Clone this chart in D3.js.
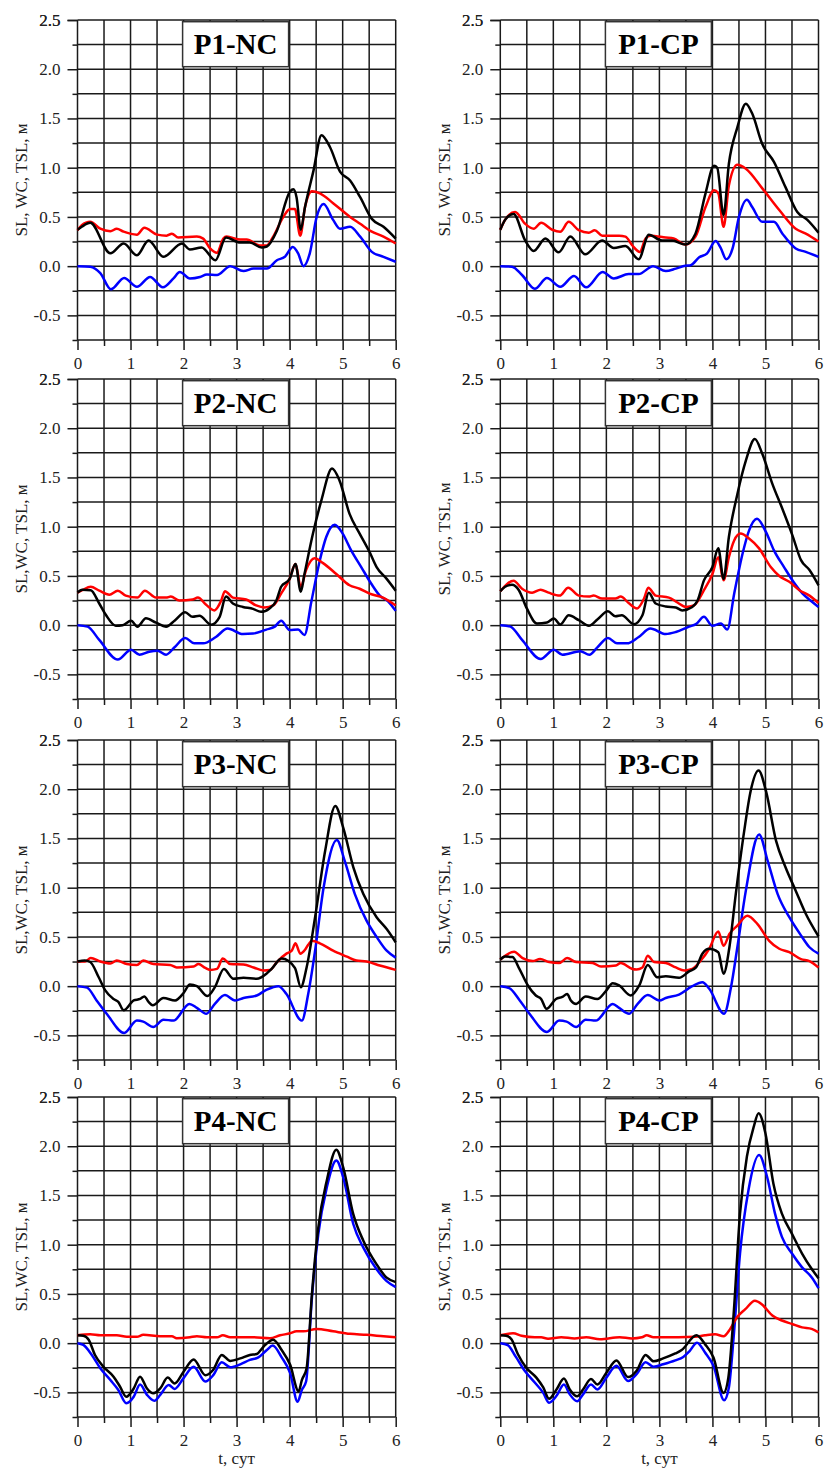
<!DOCTYPE html>
<html>
<head>
<meta charset="utf-8">
<script src="https://cdn.jsdelivr.net/npm/d3@7"></script>
<style>
  body { margin: 0; background: #fff; }
  svg { display: block; }
  text { font-family: "Liberation Serif", "Times New Roman", serif; }
</style>
</head>
<body>
<div id="chart"></div>
<script>
// оси и подписи
const xTicks = [0, 1, 2, 3, 4, 5, 6];
const yTicks = [-0.5, 0, 0.5, 1, 1.5, 2, 2.5];
const yTickLabels = ['-0.5', '0.0', '0.5', '1.0', '1.5', '2.0', '2.5'];
const titles = ['P1-NC', 'P1-CP', 'P2-NC', 'P2-CP', 'P3-NC', 'P3-CP', 'P4-NC', 'P4-CP'];
const yTitles = ['SL, WC, TSL, м', 'SL, WC, TSL, м', 'SL,WC, TSL, м', 'SL, WC, TSL, м',
    'SL,WC, TSL, м', 'SL,WC, TSL, м', 'SL,WC, TSL, м', 'SL,WC, TSL, м'];
const xTitle = 't, сут';

// [t, значение]: SL - синий, WC - красный, TSL - черный
const p1ncSL = [[0,0],[0.24,-0.005],[0.43,-0.07],[0.63,-0.235],[0.88,-0.12],[1.12,-0.21],[1.37,-0.11],[1.61,-0.215],[1.81,-0.125],[1.93,-0.06],[2.12,-0.125],[2.31,-0.11],[2.44,-0.085],[2.63,-0.09],[2.88,0],[3.13,-0.05],[3.32,-0.025],[3.57,-0.025],[3.76,0.06],[3.91,0.095],[4.06,0.195],[4.16,0.13],[4.26,0],[4.38,0.13],[4.51,0.5],[4.64,0.63],[4.82,0.47],[4.95,0.38],[5.14,0.4],[5.33,0.3],[5.55,0.145],[5.77,0.095],[6,0.045]];
const p1ncWC = [[0,0.365],[0.08,0.415],[0.24,0.45],[0.43,0.38],[0.62,0.355],[0.74,0.38],[0.87,0.35],[1.12,0.32],[1.26,0.39],[1.5,0.32],[1.68,0.31],[1.78,0.33],[1.9,0.29],[2.25,0.3],[2.37,0.28],[2.5,0.18],[2.63,0.135],[2.75,0.28],[2.81,0.3],[3.07,0.27],[3.19,0.27],[3.44,0.21],[3.57,0.21],[3.69,0.3],[3.88,0.5],[4.01,0.58],[4.1,0.58],[4.2,0.31],[4.29,0.6],[4.42,0.76],[4.57,0.74],[4.82,0.64],[5.14,0.5],[5.33,0.43],[5.55,0.35],[5.77,0.3],[6,0.23]];
const p1ncTSL = [[0,0.37],[0.08,0.4],[0.24,0.44],[0.62,0.13],[0.87,0.23],[1.12,0.11],[1.34,0.26],[1.62,0.095],[1.97,0.23],[2.12,0.17],[2.34,0.19],[2.6,0.06],[2.8,0.29],[3.07,0.24],[3.25,0.24],[3.47,0.19],[3.57,0.2],[3.76,0.36],[4.01,0.76],[4.07,0.78],[4.13,0.7],[4.21,0.37],[4.29,0.6],[4.45,0.97],[4.6,1.33],[4.76,1.21],[4.95,0.96],[5.14,0.87],[5.33,0.7],[5.55,0.48],[5.77,0.4],[6,0.28]];

const p1cpSL = [[0,0],[0.22,-0.005],[0.41,-0.09],[0.65,-0.23],[0.88,-0.12],[1.13,-0.21],[1.39,-0.1],[1.62,-0.215],[1.93,-0.06],[2.14,-0.125],[2.42,-0.08],[2.61,-0.08],[2.88,0],[3.12,-0.05],[3.31,-0.025],[3.49,0.005],[3.59,0.01],[3.75,0.09],[3.9,0.13],[4.06,0.255],[4.16,0.18],[4.26,0.07],[4.38,0.18],[4.5,0.5],[4.65,0.675],[4.75,0.6],[4.94,0.45],[5.16,0.45],[5.32,0.33],[5.57,0.18],[5.76,0.145],[6,0.095]];
const p1cpWC = [[0,0.37],[0.09,0.47],[0.28,0.55],[0.47,0.43],[0.63,0.38],[0.77,0.44],[0.98,0.37],[1.13,0.35],[1.29,0.45],[1.48,0.365],[1.67,0.34],[1.78,0.365],[1.92,0.31],[2.24,0.31],[2.36,0.3],[2.49,0.21],[2.63,0.145],[2.74,0.28],[2.83,0.31],[3.12,0.29],[3.27,0.28],[3.49,0.22],[3.68,0.3],[3.87,0.6],[4.03,0.77],[4.11,0.74],[4.21,0.4],[4.31,0.82],[4.47,1.03],[4.63,0.99],[4.94,0.79],[5.26,0.57],[5.57,0.38],[5.76,0.33],[6,0.25]];
const p1cpTSL = [[0,0.37],[0.09,0.47],[0.25,0.53],[0.47,0.26],[0.63,0.155],[0.85,0.28],[1.1,0.14],[1.32,0.3],[1.6,0.12],[1.92,0.26],[2.14,0.185],[2.36,0.205],[2.61,0.07],[2.8,0.32],[3.05,0.26],[3.24,0.26],[3.49,0.22],[3.68,0.33],[3.87,0.74],[4.03,1.02],[4.09,1.0],[4.21,0.52],[4.31,1.04],[4.47,1.41],[4.63,1.65],[4.75,1.55],[4.94,1.24],[5.16,1.06],[5.38,0.8],[5.6,0.55],[5.79,0.47],[6,0.34]];

const p2ncSL = [[0,0],[0.19,-0.015],[0.41,-0.15],[0.76,-0.35],[1.01,-0.25],[1.17,-0.3],[1.35,-0.27],[1.51,-0.26],[1.67,-0.3],[1.83,-0.225],[2.03,-0.13],[2.2,-0.185],[2.37,-0.185],[2.61,-0.12],[2.83,-0.035],[3.12,-0.09],[3.31,-0.085],[3.56,-0.045],[3.72,-0.015],[3.84,0.045],[4.0,-0.05],[4.16,-0.045],[4.28,-0.1],[4.41,0.24],[4.57,0.66],[4.69,0.895],[4.85,1.02],[5.0,0.93],[5.16,0.76],[5.35,0.59],[5.54,0.42],[5.7,0.3],[5.86,0.24],[6,0.145]];
const p2ncWC = [[0,0.33],[0.09,0.355],[0.25,0.39],[0.41,0.35],[0.6,0.31],[0.76,0.35],[0.91,0.3],[1.13,0.28],[1.27,0.35],[1.48,0.28],[1.67,0.28],[1.76,0.29],[1.92,0.25],[2.17,0.26],[2.27,0.28],[2.42,0.21],[2.58,0.15],[2.71,0.25],[2.78,0.345],[2.93,0.28],[3.18,0.26],[3.37,0.2],[3.53,0.18],[3.69,0.2],[3.84,0.32],[4.0,0.47],[4.11,0.62],[4.21,0.39],[4.31,0.56],[4.47,0.68],[4.63,0.63],[4.88,0.52],[5.13,0.405],[5.32,0.37],[5.51,0.32],[5.76,0.28],[6,0.2]];
const p2ncTSL = [[0,0.33],[0.09,0.36],[0.25,0.355],[0.41,0.22],[0.54,0.1],[0.72,-0.005],[0.85,0],[1.01,0.045],[1.13,-0.015],[1.29,0.07],[1.48,0.025],[1.67,-0.015],[1.83,0.045],[2.03,0.13],[2.17,0.085],[2.3,0.095],[2.52,0.005],[2.68,0.085],[2.8,0.29],[2.93,0.22],[3.12,0.185],[3.31,0.165],[3.46,0.135],[3.62,0.17],[3.75,0.25],[3.84,0.39],[4.0,0.47],[4.11,0.62],[4.21,0.34],[4.28,0.52],[4.44,0.93],[4.6,1.27],[4.8,1.59],[4.94,1.47],[5.13,1.13],[5.32,0.93],[5.51,0.74],[5.64,0.59],[5.83,0.47],[6,0.35]];

const p2cpSL = [[0,0],[0.19,-0.015],[0.41,-0.15],[0.76,-0.345],[1.01,-0.25],[1.17,-0.3],[1.51,-0.265],[1.68,-0.3],[1.83,-0.225],[2.03,-0.13],[2.2,-0.185],[2.39,-0.185],[2.61,-0.12],[2.83,-0.035],[3.12,-0.09],[3.31,-0.07],[3.56,-0.015],[3.69,0.01],[3.84,0.085],[4.0,-0.007],[4.16,0.017],[4.28,-0.045],[4.41,0.32],[4.57,0.73],[4.69,0.96],[4.84,1.08],[5.01,0.945],[5.16,0.76],[5.35,0.59],[5.54,0.43],[5.7,0.32],[5.86,0.245],[6,0.185]];
const p2cpWC = [[0,0.345],[0.25,0.45],[0.41,0.37],[0.6,0.33],[0.76,0.36],[0.91,0.33],[1.12,0.3],[1.28,0.38],[1.48,0.3],[1.67,0.29],[1.76,0.3],[1.92,0.27],[2.17,0.27],[2.27,0.29],[2.42,0.225],[2.58,0.17],[2.71,0.27],[2.79,0.38],[2.93,0.3],[3.18,0.28],[3.34,0.23],[3.5,0.185],[3.65,0.2],[3.84,0.355],[4.0,0.52],[4.11,0.69],[4.21,0.455],[4.31,0.69],[4.41,0.86],[4.53,0.93],[4.69,0.88],[4.88,0.78],[5.1,0.59],[5.26,0.5],[5.45,0.44],[5.64,0.355],[5.83,0.3],[6,0.225]];
const p2cpTSL = [[0,0.345],[0.09,0.39],[0.22,0.41],[0.35,0.355],[0.5,0.17],[0.69,0.017],[0.88,0.027],[1.01,0.068],[1.13,0.007],[1.29,0.1],[1.48,0.05],[1.67,-0.007],[1.83,0.057],[2.03,0.14],[2.17,0.09],[2.29,0.1],[2.52,0.01],[2.68,0.1],[2.8,0.33],[2.93,0.22],[3.12,0.19],[3.31,0.18],[3.43,0.15],[3.62,0.185],[3.72,0.25],[3.84,0.455],[4.0,0.59],[4.11,0.78],[4.21,0.47],[4.31,0.895],[4.47,1.33],[4.63,1.67],[4.8,1.89],[4.94,1.74],[5.13,1.435],[5.32,1.18],[5.51,0.91],[5.67,0.66],[5.83,0.56],[6,0.405]];

const p3ncSL = [[0,0],[0.18,-0.015],[0.36,-0.145],[0.55,-0.28],[0.88,-0.475],[1.12,-0.35],[1.24,-0.36],[1.43,-0.415],[1.62,-0.34],[1.81,-0.35],[2.11,-0.18],[2.25,-0.22],[2.43,-0.28],[2.59,-0.18],[2.78,-0.09],[2.97,-0.145],[3.13,-0.12],[3.38,-0.095],[3.57,-0.035],[3.79,0],[3.94,-0.08],[4.23,-0.35],[4.35,-0.08],[4.48,0.36],[4.64,1.0],[4.89,1.485],[5.04,1.27],[5.23,0.935],[5.45,0.665],[5.64,0.5],[5.83,0.36],[6,0.29]];
const p3ncWC = [[0,0.25],[0.14,0.25],[0.25,0.285],[0.43,0.25],[0.62,0.23],[0.74,0.26],[0.93,0.225],[1.12,0.215],[1.24,0.26],[1.43,0.225],[1.75,0.215],[1.87,0.19],[2.19,0.2],[2.28,0.225],[2.41,0.185],[2.5,0.165],[2.63,0.175],[2.74,0.28],[2.88,0.225],[3.13,0.22],[3.32,0.19],[3.5,0.16],[3.63,0.165],[3.76,0.245],[3.94,0.33],[4.04,0.36],[4.11,0.435],[4.2,0.33],[4.29,0.37],[4.35,0.42],[4.42,0.46],[4.57,0.435],[4.82,0.36],[5.08,0.3],[5.26,0.26],[5.45,0.25],[5.7,0.21],[6,0.165]];
const p3ncTSL = [[0,0.25],[0.14,0.26],[0.24,0.245],[0.4,0.09],[0.52,-0.04],[0.68,-0.13],[0.77,-0.16],[0.87,-0.245],[1.06,-0.145],[1.18,-0.13],[1.26,-0.105],[1.34,-0.16],[1.42,-0.195],[1.62,-0.12],[1.84,-0.145],[2.0,-0.07],[2.12,0.017],[2.25,0],[2.45,-0.1],[2.59,-0.01],[2.76,0.175],[2.94,0.075],[3.13,0.085],[3.38,0.075],[3.57,0.13],[3.66,0.175],[3.85,0.28],[4.1,0.185],[4.21,-0.01],[4.32,0.19],[4.48,0.7],[4.67,1.375],[4.86,1.83],[5.01,1.61],[5.2,1.21],[5.39,0.935],[5.64,0.7],[5.83,0.58],[6,0.445]];

const p3cpSL = [[0,0],[0.17,-0.02],[0.36,-0.14],[0.55,-0.28],[0.88,-0.465],[1.11,-0.35],[1.25,-0.36],[1.43,-0.415],[1.61,-0.34],[1.8,-0.35],[2.12,-0.18],[2.24,-0.22],[2.43,-0.28],[2.59,-0.18],[2.78,-0.09],[3.0,-0.145],[3.12,-0.12],[3.37,-0.085],[3.62,0],[3.81,0.04],[3.94,-0.027],[4.22,-0.28],[4.35,-0.01],[4.47,0.395],[4.63,0.97],[4.88,1.54],[5.04,1.275],[5.23,0.935],[5.45,0.7],[5.67,0.515],[5.83,0.395],[6,0.33]];
const p3cpWC = [[0,0.27],[0.26,0.35],[0.42,0.285],[0.61,0.255],[0.75,0.275],[0.92,0.245],[1.11,0.235],[1.26,0.285],[1.43,0.245],[1.74,0.235],[1.9,0.2],[2.18,0.21],[2.27,0.235],[2.49,0.175],[2.57,0.17],[2.68,0.19],[2.78,0.31],[2.9,0.245],[3.12,0.235],[3.31,0.19],[3.47,0.16],[3.62,0.175],[3.78,0.26],[3.94,0.38],[4.11,0.555],[4.21,0.41],[4.32,0.53],[4.47,0.615],[4.66,0.715],[4.85,0.63],[5.07,0.46],[5.26,0.38],[5.45,0.345],[5.67,0.275],[5.83,0.255],[6,0.19]];
const p3cpTSL = [[0,0.27],[0.09,0.3],[0.23,0.295],[0.36,0.175],[0.52,0.007],[0.67,-0.095],[0.77,-0.13],[0.87,-0.23],[1.05,-0.13],[1.17,-0.11],[1.26,-0.08],[1.33,-0.145],[1.43,-0.18],[1.61,-0.105],[1.83,-0.13],[1.99,-0.05],[2.12,0.03],[2.24,0.007],[2.46,-0.095],[2.62,0.007],[2.78,0.215],[2.96,0.09],[3.12,0.1],[3.37,0.085],[3.56,0.15],[3.69,0.19],[3.81,0.33],[3.94,0.38],[4.11,0.345],[4.21,0.125],[4.32,0.395],[4.44,0.935],[4.6,1.58],[4.72,1.98],[4.87,2.19],[5.01,1.98],[5.2,1.475],[5.38,1.205],[5.57,0.97],[5.76,0.735],[6,0.505]];

const p4ncSL = [[0,0],[0.11,-0.017],[0.27,-0.12],[0.43,-0.255],[0.62,-0.375],[0.77,-0.475],[0.92,-0.61],[1.06,-0.545],[1.18,-0.42],[1.31,-0.525],[1.45,-0.585],[1.56,-0.525],[1.72,-0.425],[1.83,-0.465],[2.0,-0.355],[2.19,-0.24],[2.41,-0.39],[2.56,-0.325],[2.72,-0.195],[2.88,-0.245],[3.07,-0.215],[3.25,-0.17],[3.41,-0.145],[3.57,-0.07],[3.68,-0.025],[3.85,-0.145],[4.01,-0.305],[4.15,-0.595],[4.23,-0.475],[4.31,-0.39],[4.42,0.46],[4.54,1.105],[4.7,1.58],[4.88,1.855],[5.01,1.685],[5.2,1.21],[5.39,0.97],[5.64,0.75],[5.83,0.63],[6,0.57]];
const p4ncWC = [[0,0.08],[0.24,0.09],[0.43,0.08],[0.74,0.08],[0.93,0.065],[1.12,0.065],[1.24,0.085],[1.56,0.07],[1.78,0.07],[1.87,0.05],[2.12,0.06],[2.25,0.07],[2.44,0.06],[2.63,0.06],[2.74,0.08],[2.88,0.06],[3.32,0.06],[3.63,0.05],[3.82,0.08],[4.01,0.1],[4.13,0.12],[4.26,0.12],[4.51,0.145],[4.82,0.12],[5.14,0.095],[5.45,0.085],[5.77,0.07],[6,0.06]];
const p4ncTSL = [[0,0.08],[0.11,0.075],[0.21,0.035],[0.33,-0.12],[0.49,-0.24],[0.68,-0.34],[0.8,-0.44],[0.92,-0.545],[1.06,-0.46],[1.18,-0.34],[1.31,-0.46],[1.43,-0.51],[1.56,-0.46],[1.7,-0.35],[1.83,-0.41],[2.0,-0.29],[2.19,-0.165],[2.41,-0.325],[2.56,-0.27],[2.72,-0.12],[2.88,-0.18],[3.07,-0.155],[3.25,-0.12],[3.38,-0.11],[3.51,-0.035],[3.69,0.035],[3.85,-0.07],[4.01,-0.22],[4.17,-0.49],[4.23,-0.375],[4.32,-0.255],[4.42,0.495],[4.54,1.17],[4.7,1.65],[4.88,1.965],[5.01,1.785],[5.2,1.31],[5.39,1.04],[5.64,0.8],[5.83,0.665],[6,0.62]];

const p4cpSL = [[0,0],[0.14,-0.02],[0.3,-0.145],[0.46,-0.28],[0.65,-0.4],[0.81,-0.505],[0.92,-0.605],[1.06,-0.535],[1.2,-0.42],[1.31,-0.52],[1.45,-0.59],[1.56,-0.52],[1.71,-0.42],[1.83,-0.47],[2.0,-0.35],[2.19,-0.23],[2.41,-0.385],[2.57,-0.315],[2.74,-0.195],[2.89,-0.24],[3.07,-0.215],[3.3,-0.175],[3.45,-0.14],[3.57,-0.08],[3.71,0.005],[3.86,-0.095],[4.02,-0.23],[4.22,-0.58],[4.31,-0.45],[4.4,0.06],[4.52,0.91],[4.68,1.555],[4.88,1.91],[5.03,1.69],[5.18,1.315],[5.31,1.08],[5.5,0.91],[5.69,0.77],[5.87,0.67],[6,0.56]];
const p4cpWC = [[0,0.08],[0.24,0.1],[0.4,0.075],[0.65,0.06],[0.77,0.06],[0.9,0.045],[1.15,0.06],[1.4,0.048],[1.62,0.06],[1.88,0.04],[2.25,0.06],[2.48,0.048],[2.67,0.06],[2.76,0.08],[2.89,0.06],[3.36,0.06],[3.67,0.065],[3.86,0.08],[4.05,0.09],[4.21,0.07],[4.33,0.14],[4.46,0.26],[4.62,0.345],[4.8,0.43],[4.94,0.39],[5.13,0.28],[5.31,0.23],[5.5,0.195],[5.69,0.16],[5.87,0.145],[6,0.11]];
const p4cpTSL = [[0,0.08],[0.11,0.075],[0.21,0.04],[0.33,-0.11],[0.49,-0.25],[0.68,-0.35],[0.81,-0.45],[0.92,-0.565],[1.06,-0.47],[1.2,-0.36],[1.31,-0.47],[1.45,-0.54],[1.56,-0.47],[1.71,-0.365],[1.83,-0.42],[2.0,-0.3],[2.19,-0.175],[2.41,-0.345],[2.57,-0.28],[2.74,-0.12],[2.89,-0.185],[3.07,-0.155],[3.3,-0.105],[3.42,-0.07],[3.7,0.08],[3.86,-0.01],[4.02,-0.145],[4.21,-0.505],[4.3,-0.35],[4.4,0.295],[4.52,1.315],[4.65,1.895],[4.78,2.2],[4.87,2.335],[5.0,2.13],[5.15,1.62],[5.31,1.315],[5.5,1.11],[5.69,0.91],[5.87,0.755],[6,0.66]];

// Сборка панелей
const panelSeries = [
    [p1ncSL, p1ncWC, p1ncTSL], [p1cpSL, p1cpWC, p1cpTSL],
    [p2ncSL, p2ncWC, p2ncTSL], [p2cpSL, p2cpWC, p2cpTSL],
    [p3ncSL, p3ncWC, p3ncTSL], [p3cpSL, p3cpWC, p3cpTSL],
    [p4ncSL, p4ncWC, p4ncTSL], [p4cpSL, p4cpWC, p4cpTSL]
];
const seriesColors = ['#0000ff', '#ff0000', '#000000'];

const width = 824;
const height = 1468;
const colLeft = [77.5, 500.3];
const rowTop = [20, 379, 740, 1097];
const plotW = 318.2;
const plotH = 320;

const svg = d3.select('#chart').append('svg')
    .attr('width', width)
    .attr('height', height);

const x = d3.scaleLinear().domain([0, 6]).range([0, plotW]);
const y = d3.scaleLinear().domain([-0.75, 2.5]).range([plotH, 0]);

const line = d3.line()
    .x(d => x(d[0]))
    .y(d => y(d[1]))
    .curve(d3.curveMonotoneX);

const gridX = d3.range(0, 6.01, 0.5);
const gridY = d3.range(-0.75, 2.51, 0.25);

panelSeries.forEach((series, i) => {
    const col = i % 2;
    const row = Math.floor(i / 2);
    const g = svg.append('g')
        .attr('transform', 'translate(' + colLeft[col] + ',' + rowTop[row] + ')');

    // сетка
    g.append('g').selectAll('line')
        .data(gridX)
        .enter()
        .append('line')
        .attr('x1', d => x(d)).attr('x2', d => x(d))
        .attr('y1', 0).attr('y2', plotH)
        .attr('stroke', '#1a1a1a')
        .attr('stroke-width', 1.5);
    g.append('g').selectAll('line')
        .data(gridY)
        .enter()
        .append('line')
        .attr('x1', 0).attr('x2', plotW)
        .attr('y1', d => y(d)).attr('y2', d => y(d))
        .attr('stroke', '#1a1a1a')
        .attr('stroke-width', 1.5);

    // оси: большие и малые штрихи
    const yMinor = g.append('g')
        .call(d3.axisLeft(y).tickValues(gridY.filter(v => Math.abs(v * 2 - Math.round(v * 2)) > 0.01)).tickSize(5).tickFormat(''));
    const yMajor = g.append('g')
        .call(d3.axisLeft(y).tickValues(yTicks.concat([2.5])).tickSize(10).tickPadding(7)
            .tickFormat(d => yTickLabels[yTicks.indexOf(d)]));
    const xMinor = g.append('g')
        .attr('transform', 'translate(0,' + plotH + ')')
        .call(d3.axisBottom(x).tickValues([0.5, 1.5, 2.5, 3.5, 4.5, 5.5]).tickSize(6).tickFormat(''));
    const xMajor = g.append('g')
        .attr('transform', 'translate(0,' + plotH + ')')
        .call(d3.axisBottom(x).tickValues(xTicks).tickSize(10).tickPadding(7).tickFormat(d3.format('d')));

    [yMinor, yMajor, xMinor, xMajor].forEach(ax => {
        ax.select('.domain').remove();
        ax.selectAll('line').attr('stroke', '#1a1a1a').attr('stroke-width', 1.5);
        ax.selectAll('text')
            .attr('fill', '#222')
            .style('font-size', '17px')
            .style('font-family', '"Liberation Serif", "Times New Roman", serif');
    });

    // линии
    series.forEach((s, k) => {
        g.append('path')
            .datum(s)
            .attr('d', line)
            .attr('fill', 'none')
            .attr('stroke', seriesColors[k])
            .attr('stroke-width', 2.5)
            .attr('stroke-linejoin', 'round');
    });

    // заголовок панели
    const boxW = 106;
    const boxH = 45;
    g.append('rect')
        .attr('x', plotW / 2 - boxW / 2 - 1)
        .attr('y', 1.7)
        .attr('width', boxW)
        .attr('height', boxH)
        .attr('fill', '#fff')
        .attr('stroke', '#333')
        .attr('stroke-width', 1.5);
    g.append('text')
        .attr('x', plotW / 2 - 1)
        .attr('y', 1.7 + boxH / 2)
        .attr('dy', '0.35em')
        .attr('text-anchor', 'middle')
        .style('font-size', '29px')
        .style('font-weight', 'bold')
        .text(titles[i]);

    // подпись оси Y
    g.append('text')
        .attr('transform', 'translate(-56,' + (plotH / 2) + ') rotate(-90)')
        .attr('dy', '0.35em')
        .attr('text-anchor', 'middle')
        .attr('fill', '#222')
        .style('font-size', '17px')
        .text(yTitles[i]);

    // подпись оси X только в нижнем ряду
    if (row === 3) {
        g.append('text')
            .attr('x', plotW / 2)
            .attr('y', plotH + 47)
            .attr('text-anchor', 'middle')
            .attr('fill', '#222')
            .style('font-size', '17px')
            .text(xTitle);
    }
});
</script>
</body>
</html>
